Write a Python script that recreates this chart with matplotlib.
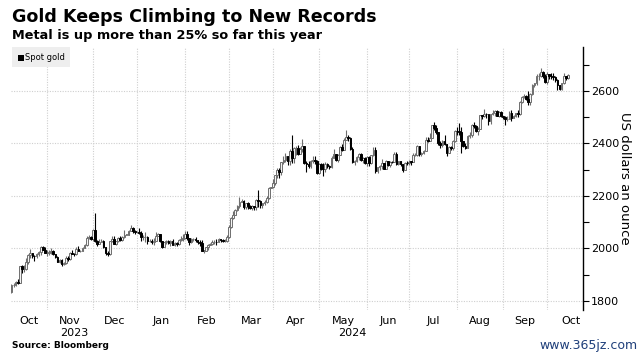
import numpy as np
import pandas as pd
import matplotlib
matplotlib.use("Agg")
import matplotlib.pyplot as plt
from matplotlib.patches import Rectangle

# ---------------- data (daily OHLC, spot gold, USD/oz) ----------------
start_date = "2023-10-09"
end_date = "2024-10-15"
first_open = 1833

close = [
    # Oct 2023
    1861, 1861, 1874, 1868, 1932, 1920, 1923, 1947, 1974, 1981, 1973, 1970, 1979, 1985, 2006, 1996, 1983,
    # Nov 2023
    1983, 1985, 1992, 1978, 1969, 1950, 1958, 1940, 1946, 1963, 1959, 1981, 1980, 1978, 1998, 1990, 1992, 2002, 2014, 2041, 2044, 2036,
    # Dec 2023
    2072, 2029, 2019, 2025, 2028, 2004, 1982, 1979, 2027, 2036, 2019, 2027, 2040, 2031, 2045, 2053, 2053, 2067, 2077, 2065, 2063,
    # Jan 2024
    2063, 2059, 2042, 2043, 2045, 2027, 2029, 2024, 2029, 2049, 2055, 2028, 2006, 2023, 2029, 2021, 2029, 2014, 2020, 2018, 2032, 2037, 2039,
    # Feb 2024
    2054, 2039, 2025, 2035, 2035, 2034, 2024, 2020, 1992, 1992, 2004, 2013, 2018, 2024, 2025, 2024, 2035, 2031, 2029, 2030, 2044,
    # Mar 2024
    2083, 2115, 2128, 2148, 2160, 2179, 2182, 2158, 2174, 2162, 2155, 2160, 2157, 2186, 2181, 2165, 2172, 2179, 2194, 2230, 2233,
    # Apr 2024
    2251, 2280, 2300, 2290, 2329, 2339, 2352, 2333, 2372, 2344, 2383, 2383, 2361, 2379, 2392, 2327, 2322, 2316, 2332, 2337, 2335, 2286,
    # May 2024
    2320, 2304, 2301, 2323, 2314, 2309, 2346, 2360, 2336, 2358, 2386, 2376, 2415, 2425, 2421, 2379, 2329, 2334, 2350, 2360, 2338, 2343, 2327,
    # Jun 2024
    2350, 2327, 2355, 2375, 2294, 2311, 2316, 2324, 2303, 2333, 2319, 2330, 2328, 2360, 2322, 2334, 2320, 2298, 2327, 2326,
    # Jul 2024
    2331, 2330, 2356, 2356, 2392, 2359, 2364, 2371, 2415, 2411, 2422, 2469, 2459, 2445, 2400, 2396, 2409, 2397, 2364, 2387, 2384, 2411, 2447,
    # Aug 2024
    2446, 2443, 2410, 2390, 2382, 2427, 2431, 2472, 2465, 2447, 2456, 2507, 2504, 2513, 2512, 2484, 2512, 2518, 2524, 2504, 2521, 2503,
    # Sep 2024
    2500, 2493, 2495, 2516, 2497, 2505, 2516, 2512, 2558, 2577, 2582, 2569, 2559, 2587, 2622, 2629, 2657, 2657, 2672, 2658, 2634,
    # Oct 2024
    2663, 2657, 2656, 2653, 2643, 2622, 2608, 2630, 2657, 2649, 2662,
]

high = [
    1865, 1867, 1877, 1885, 1933, 1937, 1937, 1962, 1980, 1997, 1984, 1977, 1981, 1991, 2009, 2009, 2007,
    1993, 1993, 2003, 1993, 1979, 1972, 1960, 1961, 1947, 1971, 1970, 1985, 1993, 1983, 2007, 2008, 1996, 2006, 2018, 2048, 2052, 2048,
    2075, 2135, 2031, 2036, 2035, 2034, 2005, 1992, 2029, 2048, 2047, 2030, 2045, 2047, 2048, 2071, 2055, 2069, 2088, 2081, 2070,
    2066, 2079, 2065, 2052, 2064, 2046, 2036, 2037, 2041, 2062, 2058, 2056, 2030, 2025, 2032, 2033, 2032, 2037, 2023, 2025, 2035, 2048, 2056,
    2065, 2065, 2040, 2040, 2039, 2043, 2034, 2032, 2031, 1996, 2006, 2016, 2022, 2031, 2031, 2035, 2041, 2037, 2038, 2037, 2052,
    2088, 2119, 2141, 2152, 2165, 2195, 2189, 2185, 2175, 2178, 2167, 2165, 2163, 2187, 2223, 2186, 2175, 2185, 2199, 2236, 2236,
    2266, 2281, 2305, 2305, 2330, 2354, 2365, 2354, 2378, 2431, 2387, 2392, 2393, 2388, 2418, 2391, 2335, 2334, 2338, 2353, 2351, 2337,
    2326, 2327, 2324, 2331, 2327, 2318, 2351, 2378, 2361, 2360, 2389, 2397, 2422, 2450, 2431, 2426, 2385, 2339, 2354, 2364, 2362, 2350, 2348,
    2354, 2354, 2358, 2388, 2387, 2311, 2318, 2342, 2326, 2336, 2334, 2335, 2334, 2368, 2368, 2335, 2335, 2320, 2330, 2335,
    2339, 2334, 2365, 2363, 2393, 2392, 2366, 2375, 2425, 2424, 2440, 2470, 2483, 2470, 2445, 2409, 2412, 2431, 2399, 2390, 2392, 2413, 2451,
    2462, 2477, 2461, 2409, 2403, 2431, 2442, 2475, 2481, 2471, 2464, 2509, 2510, 2531, 2515, 2509, 2512, 2526, 2527, 2528, 2524, 2525,
    2506, 2505, 2504, 2523, 2529, 2507, 2518, 2529, 2560, 2580, 2589, 2586, 2600, 2593, 2625, 2632, 2664, 2670, 2686, 2678, 2664,
    2673, 2664, 2670, 2670, 2657, 2645, 2622, 2632, 2669, 2659, 2665,
]

low = [
    1831, 1852, 1857, 1866, 1869, 1908, 1912, 1918, 1942, 1964, 1963, 1954, 1962, 1971, 1976, 1993, 1982,
    1970, 1976, 1978, 1976, 1962, 1947, 1946, 1932, 1937, 1941, 1953, 1955, 1979, 1970, 1977, 1989, 1988, 1990, 2001, 2011, 2035, 2031,
    2030, 2025, 2010, 2016, 2023, 2002, 1976, 1973, 1976, 2024, 2016, 2015, 2023, 2028, 2030, 2040, 2050, 2051, 2065, 2060, 2056,
    2060, 2055, 2030, 2034, 2024, 2017, 2023, 2019, 2014, 2027, 2047, 2023, 2002, 2005, 2016, 2019, 2011, 2012, 2008, 2010, 2015, 2030, 2030,
    2035, 2031, 2015, 2022, 2029, 2026, 2019, 2011, 1990, 1984, 1989, 1996, 2012, 2014, 2017, 2015, 2023, 2024, 2025, 2025, 2025,
    2039, 2079, 2111, 2127, 2141, 2154, 2176, 2150, 2152, 2151, 2149, 2146, 2146, 2145, 2157, 2156, 2156, 2167, 2175, 2190, 2230,
    2229, 2241, 2269, 2268, 2281, 2321, 2330, 2319, 2317, 2326, 2324, 2357, 2355, 2359, 2368, 2323, 2291, 2306, 2306, 2327, 2320, 2285,
    2285, 2300, 2277, 2292, 2308, 2303, 2306, 2345, 2334, 2331, 2355, 2373, 2375, 2412, 2408, 2374, 2326, 2317, 2331, 2339, 2334, 2327, 2322,
    2314, 2314, 2321, 2352, 2287, 2286, 2298, 2304, 2301, 2302, 2314, 2311, 2325, 2328, 2317, 2317, 2314, 2293, 2298, 2319,
    2319, 2319, 2328, 2352, 2352, 2354, 2351, 2359, 2370, 2404, 2412, 2421, 2452, 2438, 2394, 2383, 2385, 2396, 2353, 2364, 2375, 2377, 2406,
    2431, 2432, 2364, 2385, 2380, 2382, 2422, 2423, 2460, 2443, 2432, 2456, 2492, 2501, 2497, 2471, 2475, 2508, 2505, 2503, 2502, 2500,
    2492, 2472, 2485, 2494, 2485, 2496, 2502, 2501, 2510, 2556, 2574, 2565, 2546, 2546, 2586, 2617, 2624, 2640, 2654, 2651, 2630,
    2625, 2646, 2646, 2643, 2635, 2605, 2605, 2604, 2625, 2642, 2647,
]

month_names = ["Oct", "Nov", "Dec", "Jan", "Feb", "Mar", "Apr", "May", "Jun", "Jul", "Aug", "Sep", "Oct"]
month_starts = ["2023-10-01", "2023-11-01", "2023-12-01", "2024-01-01", "2024-02-01", "2024-03-01",
                "2024-04-01", "2024-05-01", "2024-06-01", "2024-07-01", "2024-08-01", "2024-09-01",
                "2024-10-01", "2024-11-01"]
year_labels = ["2023", "2024"]
y_ticks = [1800, 2000, 2200, 2400, 2600]

# ---------------- derived ----------------
close = np.array(close, float)
high = np.array(high, float)
low = np.array(low, float)
n = len(close)
opn = np.concatenate([[first_open], close[:-1]])
x = np.arange(n)

def bidx(d):
    return int(np.busday_count(start_date, d))

# ---------------- figure ----------------
W, H = 644, 360
fig = plt.figure(figsize=(W / 100, H / 100), dpi=100)
fig.patch.set_facecolor("white")

ax_l, ax_r, ax_t, ax_b = 10.8, 583, 47, 310
ax = fig.add_axes([ax_l / W, 1 - ax_b / H, (ax_r - ax_l) / W, (ax_b - ax_t) / H])
ax.set_xlim(-0.3, 273.2)
ax.set_ylim(1765.7, 2767.6)

# grid
grid_kw = dict(color="#cfcfcf", linestyle=(0, (1, 1.3)), linewidth=0.8, zorder=0)
for yv in y_ticks:
    ax.axhline(yv, **grid_kw)
ms_idx = [bidx(d) for d in month_starts]
for mi in ms_idx[1:-1]:
    ax.axvline(mi, **grid_kw)

# candles
up = close >= opn
wick_up, wick_dn = "#6e6e6e", "#000000"
ax.vlines(x[up], low[up], high[up], color=wick_up, linewidth=0.8, zorder=2)
ax.vlines(x[~up], low[~up], high[~up], color=wick_dn, linewidth=0.8, zorder=2)
body_lo = np.minimum(opn, close)
body_h = np.maximum(np.abs(close - opn), 1.5)
ax.bar(x[up], body_h[up], bottom=body_lo[up], width=0.8, color="#f4f4f4",
       edgecolor=wick_up, linewidth=0.7, zorder=3)
ax.bar(x[~up], body_h[~up], bottom=body_lo[~up], width=0.8, color="black",
       edgecolor="black", linewidth=0.7, zorder=3)

# spines / axes
for s in ["top", "left", "bottom"]:
    ax.spines[s].set_visible(False)
ax.spines["right"].set_color("black")
ax.spines["right"].set_linewidth(1.0)
ax.yaxis.tick_right()
ax.set_yticks(y_ticks)
ax.set_yticks(np.arange(1900, 2800, 200), minor=True)
ax.tick_params(axis="y", which="major", length=4, width=0.8, direction="out",
               labelsize=8, pad=1.5, colors="black")
ax.tick_params(axis="y", which="minor", length=4, width=0.8, direction="out")
for lab in ax.get_yticklabels():
    lab.set_fontfamily("DejaVu Sans")
ax.set_xticks([])
ax.yaxis.set_label_position("right")
ax.set_ylabel("US dollars an ounce", rotation=270, fontsize=9.5, labelpad=9,
              fontfamily="DejaVu Sans")

# month labels
xt = []
for i in range(len(month_names)):
    a = max(ms_idx[i], 0)
    b = ms_idx[i + 1]
    xt.append((a + b) / 2)
for name, xv in zip(month_names, xt):
    ax.text(xv, -0.022, name, transform=ax.get_xaxis_transform(), ha="center", va="top",
            fontsize=8, fontfamily="DejaVu Sans")
jan_idx = bidx("2024-01-01")
year_pos = [(0 + jan_idx) / 2, (jan_idx + n - 1) / 2]
for name, xv in zip(year_labels, year_pos):
    ax.text(xv, -0.068, name, transform=ax.get_xaxis_transform(), ha="center", va="top",
            fontsize=8, fontfamily="DejaVu Sans")

# titles
fig.text(12 / W, 1 - 8 / H, "Gold Keeps Climbing to New Records", fontsize=12.6, fontweight="bold",
         ha="left", va="top", fontfamily="DejaVu Sans")
fig.text(12 / W, 1 - 29 / H, "Metal is up more than 25% so far this year", fontsize=9.3, fontweight="bold",
         ha="left", va="top", fontfamily="DejaVu Sans")

# legend box
fig.patches.append(Rectangle((12 / W, 1 - 67 / H), 58 / W, 20 / H, transform=fig.transFigure,
                             facecolor="#eeeeee", edgecolor="none", zorder=5))
fig.patches.append(Rectangle((18 / W, 1 - 60.5 / H), 5.5 / W, 5.5 / H, transform=fig.transFigure,
                             facecolor="black", edgecolor="none", zorder=6))
fig.text(25 / W, 1 - 57.5 / H, "Spot gold", fontsize=6, ha="left", va="center", zorder=7,
         fontfamily="DejaVu Sans")

# source and watermark
fig.text(12 / W, 1 - 345 / H, "Source: Bloomberg", fontsize=6.5, fontweight="bold",
         ha="left", va="center", fontfamily="DejaVu Sans")
fig.text(638 / W, 1 - 345 / H, "www.365jz.com", fontsize=9, ha="right", va="center",
         color="#1f3f7a", fontfamily="DejaVu Sans")

fig.savefig("out.png", dpi=100, facecolor="white")
